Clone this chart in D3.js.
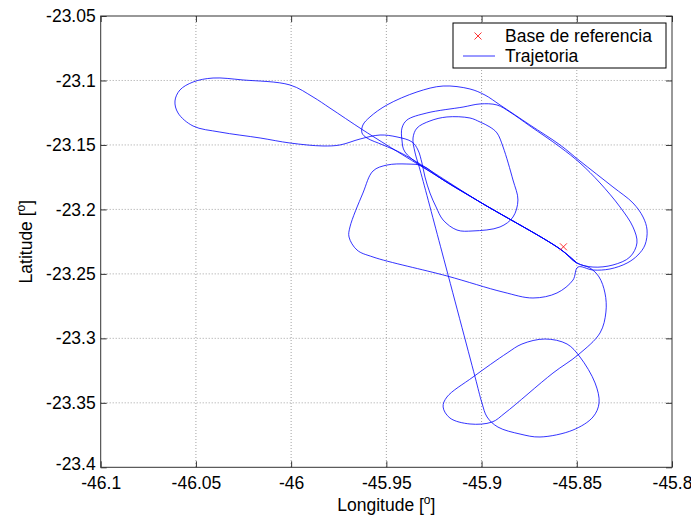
<!DOCTYPE html>
<html><head><meta charset="utf-8">
<script src="https://cdn.jsdelivr.net/npm/d3@7"></script>
<style>
body{margin:0;background:#fff;}
text{font-family:"Liberation Sans",Arial,Helvetica,sans-serif;}
</style>
</head><body>
<svg id="chart" width="691" height="515"></svg>
<script>
// ---- data ----
const xTicks = [-46.1, -46.05, -46, -45.95, -45.9, -45.85, -45.8];
const xTickLabels = ["-46.1", "-46.05", "-46", "-45.95", "-45.9", "-45.85", "-45.8"];
const yTicks = [-23.4, -23.35, -23.3, -23.25, -23.2, -23.15, -23.1, -23.05];
const yTickLabels = ["-23.4", "-23.35", "-23.3", "-23.25", "-23.2", "-23.15", "-23.1", "-23.05"];
const legendLabels = ["Base de referencia", "Trajetoria"];
const baseLon = [-45.857];
const baseLat = [-23.229];
const trajLon = [
-45.8499,-45.8588,-45.9008,-45.9413,-45.9623,-45.9796,-45.9885,-46.0006,-46.0253,-46.0410,
-46.0515,-46.0584,-46.0610,-46.0594,-46.0515,-46.0374,-46.0163,-46.0006,-45.9833,-45.9743,
-45.9638,-45.9533,-45.9444,-45.9365,-45.9334,-45.9313,-45.9297,-45.9271,-45.9239,-45.9202,
-45.9129,-45.9045,-45.8903,-45.8835,-45.8809,-45.8835,-45.8887,-45.8919,-45.8956,-45.9008,
-45.9061,-45.9182,-45.9271,-45.9339,-45.9360,-45.9350,-45.9323,-45.9208,-45.9034,-45.8998,
-45.8971,-45.8914,-45.8798,-45.8693,-45.8520,-45.8415,-45.8383,-45.8404,-45.8483,-45.8551,
-45.8667,-45.8788,-45.8866,-45.9045,-45.9182,-45.9202,-45.9166,-45.9061,-45.8945,-45.8877,
-45.8625,-45.8494,-45.8378,-45.8347,-45.8352,-45.8383,-45.8431,-45.8499,-45.8588,-45.9008,
-45.9218,-45.9308,-45.9392,-45.9497,-45.9570,-45.9623,-45.9691,-45.9696,-45.9654,-45.9570,
-45.9182,-45.8887,-45.8730,-45.8604,-45.8520,-45.8494,-45.8415,-45.8326,-45.8236,-45.8179,
-45.8142,-45.8131,-45.8152,-45.8205,-45.8310,-45.8483,-45.8588,-45.8746,-45.8903,-45.8982,
-45.9061,-45.9202,-45.9339,-45.9497,-45.9586,-45.9623,-45.9628,-45.9602,-45.9518,-45.9413,
-45.9008,
-45.8588,-45.8499,-45.8415,-45.8310,-45.8221,-45.8184,-45.8205,-45.8273,-45.8378,-45.8483,
-45.8588,-45.8746,-45.8851,-45.8919,-45.9008,-45.9097,-45.9287,-45.9392,-45.9418,-45.9418,
-45.9402,-45.9218,-45.9008,-45.8588,-45.8499
];
const trajLat = [
-23.2416,-23.2307,-23.1943,-23.1578,-23.1384,-23.1214,-23.1128,-23.1035,-23.0996,-23.0981,
-23.1012,-23.1074,-23.1159,-23.1252,-23.1353,-23.1400,-23.1446,-23.1485,-23.1508,-23.1500,
-23.1454,-23.1423,-23.1438,-23.1477,-23.1539,-23.1640,-23.1749,-23.1873,-23.1981,-23.2082,
-23.2160,-23.2167,-23.2136,-23.2059,-23.1927,-23.1772,-23.1516,-23.1407,-23.1361,-23.1322,
-23.1291,-23.1283,-23.1314,-23.1369,-23.1446,-23.1555,-23.1694,-23.2330,-23.3300,-23.3501,
-23.3610,-23.3688,-23.3742,-23.3765,-23.3711,-23.3610,-23.3501,-23.3346,-23.3145,-23.3044,
-23.3005,-23.3044,-23.3114,-23.3300,-23.3455,-23.3532,-23.3618,-23.3664,-23.3649,-23.3579,
-23.3269,-23.3129,-23.2958,-23.2796,-23.2648,-23.2524,-23.2454,-23.2416,-23.2307,-23.1943,
-23.1756,-23.1663,-23.1648,-23.1656,-23.1702,-23.1873,-23.2136,-23.2214,-23.2315,-23.2369,
-23.2516,-23.2641,-23.2687,-23.2648,-23.2548,-23.2447,-23.2470,-23.2462,-23.2416,-23.2354,
-23.2276,-23.2160,-23.2059,-23.1950,-23.1826,-23.1625,-23.1500,-23.1345,-23.1190,-23.1113,
-23.1066,-23.1043,-23.1089,-23.1190,-23.1283,-23.1345,-23.1407,-23.1446,-23.1500,-23.1570,
-23.1943,
-23.2307,-23.2416,-23.2447,-23.2431,-23.2369,-23.2260,-23.2136,-23.1981,-23.1795,-23.1640,
-23.1516,-23.1353,-23.1245,-23.1190,-23.1182,-23.1206,-23.1252,-23.1307,-23.1369,-23.1462,
-23.1555,-23.1756,-23.1943,-23.2307,-23.2416
];

// ---- layout ----
const L = 100.7, R = 672, T = 16, B = 467.3;
const FS = 17.5;
const svg = d3.select("#chart");
svg.append("rect").attr("width", 691).attr("height", 515).attr("fill", "#fff");

const x = d3.scaleLinear().domain([-46.1, -45.8]).range([L, R]);
const y = d3.scaleLinear().domain([-23.4, -23.05]).range([B, T]);

// grid
const grid = svg.append("g").attr("stroke", "#8c8c8c").attr("stroke-width", 0.8).attr("stroke-dasharray", "1,2");
grid.selectAll("line.gx").data(xTicks.slice(1, -1)).enter().append("line")
  .attr("x1", d => x(d)).attr("x2", d => x(d)).attr("y1", T).attr("y2", B);
grid.selectAll("line.gy").data(yTicks.slice(1, -1)).enter().append("line")
  .attr("x1", L).attr("x2", R).attr("y1", d => y(d)).attr("y2", d => y(d));

// trajectory
const pts = trajLon.map((v, i) => [v, trajLat[i]]);
const line = d3.line().x(d => x(d[0])).y(d => y(d[1])).curve(d3.curveCatmullRom.alpha(0.5));
svg.append("path").attr("d", line(pts)).attr("fill", "none")
  .attr("stroke", "#0000ff").attr("stroke-width", 0.8).attr("stroke-linejoin", "round");

// base marker
function cross(g, cx, cy, s) {
  g.append("path").attr("d", `M${cx - s},${cy - s}L${cx + s},${cy + s}M${cx - s},${cy + s}L${cx + s},${cy - s}`)
    .attr("stroke", "#ff0000").attr("stroke-width", 0.8).attr("fill", "none");
}
baseLon.forEach((v, i) => cross(svg, x(v), y(baseLat[i]), 3.5));

// axes
const axCol = "#333";
function styleAxis(g) {
  g.select(".domain").remove();
  g.selectAll(".tick line").attr("stroke", axCol).attr("stroke-width", 1);
  g.selectAll("text").attr("font-size", FS).attr("fill", "#000")
    .attr("font-family", "'Liberation Sans', Arial, sans-serif");
}
const xb = svg.append("g").attr("transform", `translate(0,${B})`)
  .call(d3.axisBottom(x).tickValues(xTicks).tickFormat((d, i) => xTickLabels[i]).tickSize(-6).tickPadding(9));
styleAxis(xb);
const xt = svg.append("g").attr("transform", `translate(0,${T})`)
  .call(d3.axisTop(x).tickValues(xTicks).tickFormat("").tickSize(-6));
styleAxis(xt);
const yl = svg.append("g").attr("transform", `translate(${L},0)`)
  .call(d3.axisLeft(y).tickValues(yTicks).tickFormat((d, i) => yTickLabels[i]).tickSize(-6).tickPadding(5));
styleAxis(yl);
// lift the bottom-most y label slightly so it clears the first x label
yl.selectAll(".tick text").filter(d => d === yTicks[0]).attr("dy", "0.1em");
const yr = svg.append("g").attr("transform", `translate(${R},0)`)
  .call(d3.axisRight(y).tickValues(yTicks).tickFormat("").tickSize(-6));
styleAxis(yr);

svg.append("rect").attr("x", L).attr("y", T).attr("width", R - L).attr("height", B - T)
  .attr("fill", "none").attr("stroke", axCol).attr("stroke-width", 1);

// axis labels
const xl = svg.append("text").attr("x", (L + R) / 2).attr("y", 511).attr("text-anchor", "middle")
  .attr("font-size", FS);
xl.append("tspan").text("Longitude [");
xl.append("tspan").attr("font-size", 12).attr("dy", -7).text("o");
xl.append("tspan").attr("dy", 7).text("]");

const ylab = svg.append("text").attr("transform", `translate(32,${(T + B) / 2}) rotate(-90)`)
  .attr("text-anchor", "middle").attr("font-size", FS);
ylab.append("tspan").text("Latitude [");
ylab.append("tspan").attr("font-size", 12).attr("dy", -7).text("o");
ylab.append("tspan").attr("dy", 7).text("]");

// legend
const lg = svg.append("g");
lg.append("rect").attr("x", 453).attr("y", 23).attr("width", 213).attr("height", 45)
  .attr("fill", "#fff").attr("stroke", "#000").attr("stroke-width", 1);
cross(lg, 478, 36, 3.5);
lg.append("line").attr("x1", 463).attr("x2", 495).attr("y1", 56).attr("y2", 56)
  .attr("stroke", "#0000ff").attr("stroke-width", 0.8);
lg.selectAll("text.lt").data(legendLabels).enter().append("text")
  .attr("x", 505).attr("y", (d, i) => 36 + i * 20).attr("dy", "0.35em")
  .attr("font-size", FS).text(d => d);
</script>
</body></html>
